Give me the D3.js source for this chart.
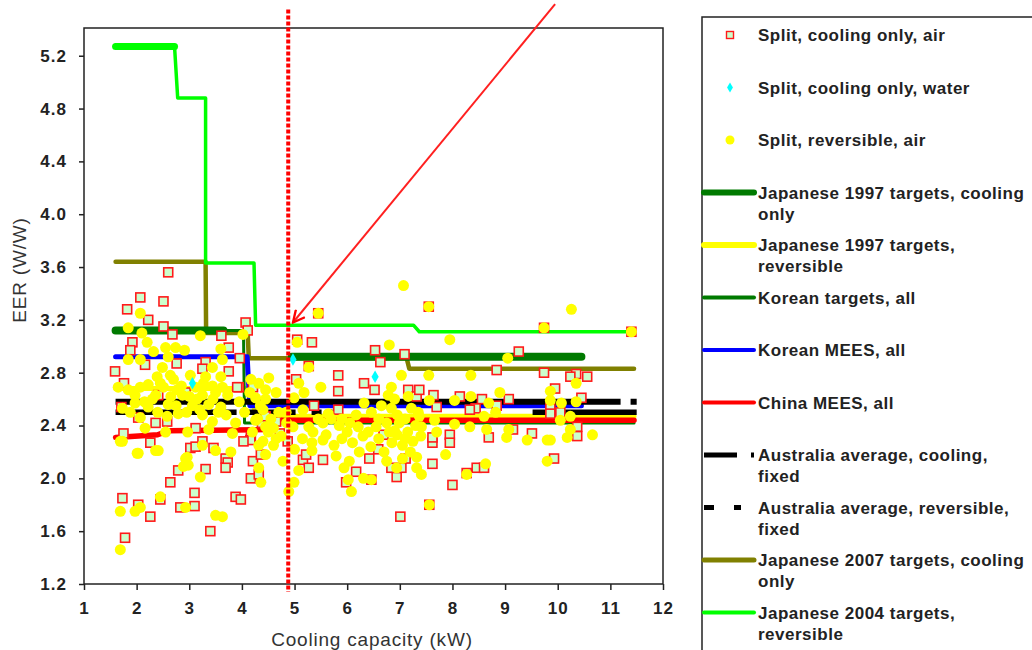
<!DOCTYPE html>
<meta charset="utf-8">
<style>
    body { margin: 0; background: #fff; }
    svg text { font-family: "Liberation Sans", Arial, sans-serif; }
    .tick text { font-size: 17px; font-weight: bold; fill: #222; letter-spacing: 1px; }
    .axis-title { font-size: 19px; fill: #333; letter-spacing: 0.8px; }
    .legend text { font-size: 17px; font-weight: bold; fill: #222; letter-spacing: 0.5px; }
    .domain { display: none; }
</style>
<svg width="1032" height="650"></svg>
<script src="https://d3js.org/d3.v7.min.js"></script>
<script>

    // ---- data: [capacity kW, EER] ----
    var xTicks = [1, 2, 3, 4, 5, 6, 7, 8, 9, 10, 11, 12];
    var yTicks = [1.2, 1.6, 2.0, 2.4, 2.8, 3.2, 3.6, 4.0, 4.4, 4.8, 5.2];

    var splitCoolAir = [
        [2.6,3.56],[2.07,3.37],[2.51,3.34],[1.82,3.28],[2.22,3.20],[2.51,3.15],[2.68,3.09],[3.61,3.08],
        [4.07,3.18],[4.11,3.12],[1.92,3.03],[1.88,2.97],[3.75,2.99],[3.96,2.91],[1.59,2.81],[3.31,2.88],
        [3.25,2.83],[3.75,2.81],[2.76,2.87],[1.76,2.72],[3.94,2.69],[2.16,2.86],[2.41,2.63],[2.93,2.65],
        [1.71,2.54],[2.36,2.42],[2.58,2.43],[1.75,2.34],[3.12,2.38],[2.03,2.46],[4.17,2.31],
        [4.21,2.69],[3.91,2.69],[4.59,2.43],[4.38,2.42],[4.16,2.29],[4.72,2.34],
        [5.45,3.25],[5.05,3.05],[5.33,3.03],[6.53,2.97],[7.09,2.94],[6.63,2.88],[5.27,2.85],[5.83,2.78],
        [5.83,2.66],[6.32,2.72],[6.52,2.67],[5.03,2.75],[7.16,2.67],[7.32,2.62],[5.37,2.55],[5.83,2.52],
        [4.65,2.43],[4.45,2.47],[6.69,2.33],
        [7.55,3.30],[9.74,3.14],[11.4,3.11],[9.26,2.96],[8.84,2.82],[9.74,2.80],[10.35,2.79],[10.56,2.77],
        [10.24,2.77],[7.37,2.67],[7.64,2.63],[8.14,2.62],[8.56,2.60],[9.07,2.60],[9.95,2.68],[10.45,2.61],
        [7.7,2.54],[8.44,2.53],[8.84,2.55],[9.86,2.53],[9.86,2.49],[10.05,2.50],[8.33,2.52],[10.37,2.39],
        [9.15,2.37],[9.51,2.34],[10.37,2.32],[7.95,2.33],[7.95,2.27],
        [2.26,2.27],[3.02,2.23],[3.12,2.24],[3.25,2.28],[3.46,2.23],[3.69,2.15],[3.73,2.12],[3.69,2.08],
        [4.03,2.28],[4.21,2.13],[4.17,2.00],[4.32,2.03],[4.36,2.18],[2.79,2.06],[3.31,2.07],[2.64,1.97],
        [1.73,1.85],[2.03,1.80],[2.45,1.84],[2.83,1.78],[3.1,1.89],[3.1,1.79],[3.88,1.86],[3.98,1.84],
        [2.26,1.71],[3.4,1.60],[1.78,1.55],[4.87,2.28],[5.16,2.14],[5.27,2.08],[5.22,2.18],[5.54,2.14],
        [6.17,2.05],[5.98,1.97],[6.42,2.15],[6.46,1.99],[6.59,2.22],[6.84,2.08],[6.94,2.01],[7.03,2.08],
        [7.11,2.15],[7.62,2.11],[7.62,2.27],[8.0,1.95],[8.27,2.04],[8.46,2.08],[8.6,2.08],[9.93,2.15],
        [7.01,1.71],[7.56,1.80],[8.69,2.31],[7.62,2.31]
    ];

    var splitCoolWater = [[3.06,2.72],[4.97,2.90],[6.53,2.77]];

    var splitRevAir = [
        [2.07,3.25],[1.84,3.14],[2.1,3.10],[3.21,3.08],[4.02,3.09],[2.2,3.03],[2.32,2.96],[2.55,2.99],
        [2.74,2.99],[2.91,2.97],[3.6,2.98],[1.84,2.90],[2.07,2.90],[2.6,2.92],[3.63,2.90],[2.49,2.84],
        [3.44,2.84],[2.39,2.77],[2.64,2.78],[3.02,2.78],[3.31,2.77],[3.6,2.77],[1.65,2.69],[1.84,2.67],
        [2.07,2.69],[2.22,2.71],[2.51,2.69],[2.77,2.67],[3.12,2.69],[3.27,2.72],[3.44,2.70],[3.63,2.69],
        [4.17,2.75],[1.97,2.63],[2.36,2.63],[2.87,2.63],[3.25,2.63],[3.73,2.63],[1.97,2.57],[2.22,2.54],
        [2.6,2.56],[3.06,2.55],[3.37,2.56],[3.6,2.54],[1.73,2.53],[1.88,2.50],[2.07,2.46],[2.58,2.47],
        [2.79,2.49],[3.25,2.48],[3.44,2.43],[3.88,2.42],[4.26,2.44],[2.16,2.38],[2.55,2.35],[2.97,2.35],
        [1.73,2.28],[3.37,2.37],[3.82,2.34],
        [7.07,3.46],[5.05,3.03],[6.8,3.01],[5.27,2.84],[7.03,2.78],[4.51,2.76],[4.32,2.72],[5.08,2.72],
        [4.45,2.67],[4.65,2.65],[5.5,2.69],[6.84,2.69],[4.26,2.61],[4.99,2.61],[5.18,2.65],[6.32,2.57],
        [6.78,2.63],[7.16,2.62],[4.4,2.52],[4.84,2.50],[5.16,2.52],[5.64,2.49],[6.17,2.48],[6.46,2.50],
        [6.84,2.53],[7.22,2.53],[4.45,2.39],[4.97,2.39],[5.27,2.39],[5.54,2.42],[6.21,2.39],[6.55,2.39],
        [6.99,2.42],[5.54,2.29],[4.65,2.30],[5.45,3.25],
        [10.26,3.28],[7.95,3.05],[9.05,2.91],[7.55,2.78],[8.35,2.78],[10.35,2.72],[9.86,2.66],[8.9,2.65],
        [7.56,2.59],[8.04,2.59],[8.35,2.62],[8.69,2.57],[9.86,2.59],[10.07,2.57],[10.35,2.58],[8.82,2.50],
        [8.6,2.47],[7.37,2.47],[7.66,2.44],[10.24,2.47],[10.05,2.44],[8.04,2.41],[8.33,2.39],[7.41,2.39],
        [9.07,2.37],[8.65,2.37],[10.24,2.37],[7.7,2.35],[9.86,2.29],[10.66,2.33],[9.03,2.31],[7.55,3.30],
        [9.74,3.14],[11.4,3.11],
        [1.69,2.28],[2.01,2.19],[2.36,2.21],[2.93,2.15],[2.89,2.09],[2.98,2.10],[3.21,2.01],[3.79,2.20],
        [3.5,2.21],[3.25,2.25],[2.45,1.86],[1.69,1.75],[1.97,1.75],[2.07,1.78],[2.93,1.78],[3.5,1.72],
        [3.63,1.71],[1.69,1.46],[4.32,2.08],[4.36,1.97],[4.45,2.18],[4.32,2.25],[4.78,2.13],[5.08,2.06],
        [4.99,1.97],[4.89,1.90],[5.33,2.21],[5.33,2.27],[5.79,2.17],[5.94,2.08],[6.04,2.13],[6.02,1.99],
        [6.08,1.90],[6.31,2.0],[6.23,2.20],[6.46,1.99],[6.94,2.08],[7.32,2.16],[7.32,2.08],[7.41,2.03],
        [7.87,2.18],[7.56,1.80],[8.27,2.03],[8.63,2.11],[9.42,2.29],[9.8,2.13],[9.8,2.29],[10.18,2.31],
        [2.03,2.19],[2.41,2.21],[2.96,2.16],
        [4.6,2.25],[4.75,2.32],[5.0,2.22],[5.15,2.3],[5.6,2.33],[5.75,2.25],[5.9,2.3],[6.1,2.27],
        [6.3,2.32],[6.45,2.24],[6.6,2.3],[6.7,2.2],[6.85,2.27],[6.95,2.33],[7.05,2.25],[7.15,2.35],
        [7.25,2.28],[7.3,2.4],[7.1,2.45],[6.9,2.36],[6.75,2.42],[5.85,2.4],[5.7,2.45],[6.0,2.35],
        [4.85,2.42],[4.55,2.45],[4.2,2.35],[4.05,2.5],[3.95,2.58],[4.15,2.65],
        [2.45,2.72],[2.7,2.75],[2.85,2.7],[3.0,2.62],[3.15,2.6],[3.5,2.65],[3.55,2.5],[2.95,2.5],
        [2.4,2.5],[2.3,2.6],[2.15,2.58],[2.75,2.55],[3.7,2.48],[3.45,2.6],[2.65,2.62],[3.2,2.52],
        [4.35,2.55],[4.45,2.6],[4.3,2.45],[4.5,2.35],[4.4,2.28],[4.6,2.38],[4.7,2.5],[5.35,2.35],
        [5.45,2.45],[5.9,2.45],[6.05,2.42],[6.4,2.35],[6.6,2.45],[6.8,2.35],[6.95,2.48],[7.1,2.3],
        [7.2,2.2],[7.05,2.15],[6.75,2.13],[7.35,2.5],[7.4,2.32],[6.65,2.55],[6.9,2.6]
    ];

    // step lines (null y = gap)
    var jp1997Cool  = [[1.6,3.12],[3.65,3.12],[3.65,null],[4.95,2.92],[10.45,2.92]];
    var jp1997Rev   = [[1.6,2.68],[4.2,2.68],[4.25,2.47],[11.45,2.47]];
    var koreaTarget = [[1.6,3.12],[4.03,3.12],[4.05,2.42],[11.45,2.42]];
    var koreaMees   = [[1.6,2.92],[4.1,2.92],[4.15,2.55],[10.45,2.55]];
    var chinaMees   = [[1.6,2.31],[2.4,2.33],[2.6,2.36],[4.5,2.37],[4.55,2.44],[11.45,2.44]];
    var ausCool     = [[1.6,2.58],[11.5,2.58]];
    var ausRev      = [[1.6,2.50],[11.5,2.50]];
    var jp2007Cool  = [[1.6,3.64],[3.31,3.64],[3.32,3.10],[4.11,3.10],[4.13,2.91],[7.13,2.91],[7.18,2.83],[11.45,2.83]];
    var jp2004Rev   = [[1.6,5.27],[2.72,5.27],[2.78,4.88],[3.31,4.88],[3.31,3.63],[4.23,3.63],[4.26,3.16],[7.26,3.16],[7.37,3.11],[11.45,3.11]];

    var markerX = 4.88;                          // dotted vertical marker
    var arrowPts = [[9.95,5.59],[4.97,3.18]];    // annotation arrow

    var legendLabels = [
        ["Split, cooling only, air"],
        ["Split, cooling only, water"],
        ["Split, reversible, air"],
        ["Japanese 1997 targets, cooling", "only"],
        ["Japanese 1997 targets,", "reversible"],
        ["Korean targets, all"],
        ["Korean MEES, all"],
        ["China MEES, all"],
        ["Australia average, cooling,", "fixed"],
        ["Australia average, reversible,", "fixed"],
        ["Japanese 2007 targets, cooling", "only"],
        ["Japanese 2004 targets,", "reversible"]
    ];

    // ---- drawing ----
    var svg = d3.select("svg");

    var x = d3.scaleLinear().domain([1, 12]).range([84, 663]);
    var y = d3.scaleLinear().domain([1.2, 5.41]).range([584, 28]);

    var line = d3.line()
            .defined(function(d) { return d[1] != null; })
            .x(function(d) { return x(d[0]); })
            .y(function(d) { return y(d[1]); });

    // frame
    svg.append("rect")
            .attr("x", x(1)).attr("y", y(5.41))
            .attr("width", x(12) - x(1)).attr("height", y(1.2) - y(5.41))
            .attr("fill", "none").attr("stroke", "#222").attr("stroke-width", 1.5);

    svg.append("g")
            .attr("transform", "translate(0," + y(1.2) + ")")
            .call(d3.axisBottom(x).tickValues(xTicks).tickSize(6).tickPadding(12).tickFormat(d3.format("d")))
            .selectAll(".tick line").attr("stroke", "#222").attr("stroke-width", 1.5);

    svg.append("g")
            .attr("transform", "translate(" + x(1) + ",0)")
            .call(d3.axisLeft(y).tickValues(yTicks).tickSize(5).tickPadding(12).tickFormat(d3.format(".1f")))
            .selectAll(".tick line").attr("stroke", "#222").attr("stroke-width", 1.5);

    svg.append("text").attr("class", "axis-title")
            .attr("x", 372).attr("y", 646).attr("text-anchor", "middle")
            .text("Cooling capacity (kW)");

    svg.append("text").attr("class", "axis-title")
            .attr("transform", "translate(26,270) rotate(-90)").attr("text-anchor", "middle")
            .text("EER (W/W)");

    var series = [
        {data: jp2007Cool,  color: "#808000", width: 4.5},
        {data: jp1997Rev,   color: "#ffff00", width: 5},
        {data: koreaTarget, color: "#007a00", width: 3},
        {data: jp1997Cool,  color: "#007a00", width: 8},
        {data: koreaMees,   color: "#0000ff", width: 5},
        {data: chinaMees,   color: "#ff0000", width: 5.5},
        {data: ausCool,     color: "#000000", width: 6, dash: "505,10,8,10"},
        {data: ausRev,      color: "#000000", width: 5.5, dash: "105,4,12,4,55,16,10,6,5,200"},
        {data: jp2004Rev,   color: "#00ff00", width: 3.5}
    ];

    svg.append("g").selectAll("path")
            .data(series)
            .enter().append("path")
            .attr("d", function(d) { return line(d.data); })
            .attr("fill", "none")
            .attr("stroke", function(d) { return d.color; })
            .attr("stroke-width", function(d) { return d.width; })
            .attr("stroke-dasharray", function(d) { return d.dash || null; })
            .attr("stroke-linejoin", "round")
            .attr("stroke-linecap", function(d) { return d.dash ? "butt" : "round"; });

    // thicker first step of the 2004 line
    svg.append("path")
            .attr("d", line(jp2004Rev.slice(0, 2)))
            .attr("fill", "none").attr("stroke", "#00ff00")
            .attr("stroke-width", 7).attr("stroke-linecap", "round");

    // markers
    svg.append("g").selectAll("rect")
            .data(splitCoolAir)
            .enter().append("rect")
            .attr("x", function(d) { return x(d[0]) - 4.5; })
            .attr("y", function(d) { return y(d[1]) - 4.5; })
            .attr("width", 9).attr("height", 9)
            .attr("fill", "#ccffcc").attr("stroke", "#ff1a1a").attr("stroke-width", 1.6);

    svg.append("g").selectAll("circle")
            .data(splitRevAir)
            .enter().append("circle")
            .attr("cx", function(d) { return x(d[0]); })
            .attr("cy", function(d) { return y(d[1]); })
            .attr("r", 5.5)
            .attr("fill", "#ffff00");

    var diamond = d3.symbol().type(d3.symbolDiamond).size(45);
    svg.append("g").selectAll("path")
            .data(splitCoolWater)
            .enter().append("path")
            .attr("d", diamond)
            .attr("transform", function(d) { return "translate(" + x(d[0]) + "," + y(d[1]) + ")"; })
            .attr("fill", "#00ffff");

    // dotted vertical marker and arrow
    svg.append("line")
            .attr("x1", x(markerX)).attr("x2", x(markerX))
            .attr("y1", y(5.55)).attr("y2", y(1.14))
            .attr("stroke", "#ff0000").attr("stroke-width", 4)
            .attr("stroke-dasharray", "4,2");

    svg.append("defs").append("marker")
            .attr("id", "arrow")
            .attr("viewBox", "0 0 12 12")
            .attr("refX", 11).attr("refY", 6)
            .attr("markerWidth", 7).attr("markerHeight", 7)
            .attr("markerUnits", "strokeWidth")
            .attr("orient", "auto")
            .append("path")
            .attr("d", "M1,1 L11,6 L1,11")
            .attr("fill", "none").attr("stroke", "#ff0000").attr("stroke-width", 2);

    svg.append("path")
            .attr("d", line(arrowPts))
            .attr("stroke", "#ff2020").attr("stroke-width", 2)
            .attr("marker-end", "url(#arrow)");

    // legend
    var legend = svg.append("g").attr("class", "legend");
    legend.append("rect")
            .attr("x", 702).attr("y", 17).attr("width", 360).attr("height", 660)
            .attr("fill", "#fff").attr("stroke", "#222").attr("stroke-width", 1.5);

    var rowY = function(i) { return 35 + i * 52.5; };

    var entry = legend.selectAll("g.entry")
            .data(legendLabels)
            .enter().append("g").attr("class", "entry")
            .attr("transform", function(d, i) { return "translate(0," + rowY(i) + ")"; });

    entry.append("text")
            .attr("x", 758).attr("y", 6)
            .selectAll("tspan")
            .data(function(d) { return d; })
            .enter().append("tspan")
            .attr("x", 758)
            .attr("dy", function(d, i) { return i ? 21 : 0; })
            .text(function(d) { return d; });

    legend.append("rect").attr("x", 726.5).attr("y", rowY(0) - 3.5).attr("width", 7).attr("height", 7)
            .attr("fill", "#ccffcc").attr("stroke", "#ff1a1a").attr("stroke-width", 1.4);
    legend.append("path").attr("d", d3.symbol().type(d3.symbolDiamond).size(30))
            .attr("transform", "translate(730," + rowY(1) + ")").attr("fill", "#00ffff");
    legend.append("circle").attr("cx", 730).attr("cy", rowY(2)).attr("r", 4.5).attr("fill", "#ffff00");

    var legendLines = [
        {row: 3,  color: "#007a00", width: 6},
        {row: 4,  color: "#ffff00", width: 6},
        {row: 5,  color: "#007a00", width: 4},
        {row: 6,  color: "#0000ff", width: 4},
        {row: 7,  color: "#ff0000", width: 4},
        {row: 8,  color: "#000000", width: 5, dash: "33,14,3,20"},
        {row: 9,  color: "#000000", width: 5, dash: "10,20,7,20"},
        {row: 10, color: "#808000", width: 5},
        {row: 11, color: "#00ff00", width: 4}
    ];

    legend.selectAll("line.key")
            .data(legendLines)
            .enter().append("line").attr("class", "key")
            .attr("x1", 704).attr("x2", 754)
            .attr("y1", function(d) { return rowY(d.row); })
            .attr("y2", function(d) { return rowY(d.row); })
            .attr("stroke", function(d) { return d.color; })
            .attr("stroke-width", function(d) { return d.width; })
            .attr("stroke-dasharray", function(d) { return d.dash || null; })
            .attr("stroke-linecap", function(d) { return d.dash ? "butt" : "round"; });

</script>
